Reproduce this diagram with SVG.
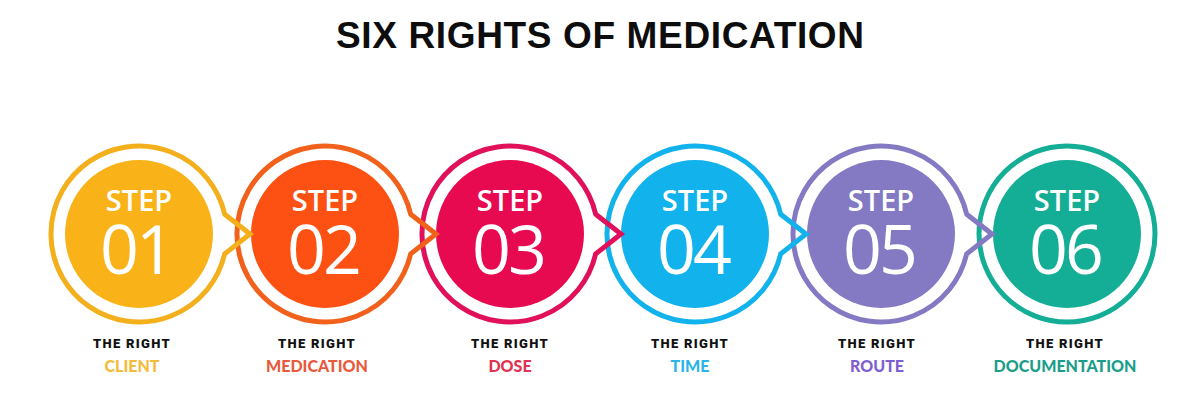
<svg xmlns="http://www.w3.org/2000/svg" width="1200" height="409" viewBox="0 0 1200 409">
<style>
.title{font-family:"Liberation Sans",Arial,sans-serif;font-weight:700;font-size:37px;fill:#0d0d0d;text-anchor:middle}
.ring{fill:none;stroke-width:5;stroke-linejoin:miter}
.step{font-family:"Open Sans","Liberation Sans",sans-serif;font-weight:600;font-size:29px;fill:#fff;text-anchor:middle}
.num{font-family:"Open Sans","Liberation Sans",sans-serif;font-weight:400;font-size:68px;fill:#fff;text-anchor:middle;letter-spacing:-3px}
.lbl1{font-family:Roboto,"Liberation Sans",sans-serif;font-weight:900;font-size:13px;fill:#111;text-anchor:middle;letter-spacing:1.3px}
.lbl2{font-family:"Lato","Liberation Sans",sans-serif;font-weight:900;font-size:16px;text-anchor:middle}
</style>
<rect width="1200" height="409" fill="#fff"/>
<text class="title" x="600" y="48" textLength="528" lengthAdjust="spacing">SIX RIGHTS OF MEDICATION</text>

<g id="node6">
<circle cx="1067" cy="234" r="74" fill="#14ad95"/>
<circle class="ring" cx="1067" cy="234" r="88" stroke="#14ad95"/>
<text class="step" x="1067" y="211">STEP</text>
<text class="num" x="1065" y="274">06</text>
<text class="lbl1" x="1065" y="348">THE RIGHT</text>
<text class="lbl2" x="1065" y="372" fill="#1a9e8a">DOCUMENTATION</text>
</g>
<g id="node5">
<circle cx="881" cy="234" r="74" fill="#8479c3"/>
<path class="ring" stroke="#8479c3" d="M966.7,214.2 L992,234 L966.7,253.8 A88,88 0 1 1 966.7,214.2 Z"/>
<text class="step" x="881" y="211">STEP</text>
<text class="num" x="879" y="274">05</text>
<text class="lbl1" x="877" y="348">THE RIGHT</text>
<text class="lbl2" x="877" y="372" fill="#7f5fd0">ROUTE</text>
</g>
<g id="node4">
<circle cx="695" cy="234" r="74" fill="#12b2ec"/>
<path class="ring" stroke="#12b2ec" d="M780.7,214.2 L806,234 L780.7,253.8 A88,88 0 1 1 780.7,214.2 Z"/>
<text class="step" x="695" y="211">STEP</text>
<text class="num" x="693" y="274">04</text>
<text class="lbl1" x="690" y="348">THE RIGHT</text>
<text class="lbl2" x="690" y="372" fill="#2bb5e6">TIME</text>
</g>
<g id="node3">
<circle cx="510" cy="234" r="74" fill="#e80a51"/>
<path class="ring" stroke="#e0115a" d="M595.7,214.2 L621,234 L595.7,253.8 A88,88 0 1 1 595.7,214.2 Z"/>
<text class="step" x="510" y="211">STEP</text>
<text class="num" x="508" y="274">03</text>
<text class="lbl1" x="510" y="348">THE RIGHT</text>
<text class="lbl2" x="510" y="372" fill="#e03452">DOSE</text>
</g>
<g id="node2">
<circle cx="325" cy="234" r="74" fill="#fd5113"/>
<path class="ring" stroke="#f2611c" d="M410.7,214.2 L436,234 L410.7,253.8 A88,88 0 1 1 410.7,214.2 Z"/>
<text class="step" x="325" y="211">STEP</text>
<text class="num" x="323" y="274">02</text>
<text class="lbl1" x="317" y="348">THE RIGHT</text>
<text class="lbl2" x="317" y="372" fill="#e85a3c">MEDICATION</text>
</g>
<g id="node1">
<circle cx="139" cy="234" r="74" fill="#f9b318"/>
<path class="ring" stroke="#f3b01c" d="M224.7,214.2 L250,234 L224.7,253.8 A88,88 0 1 1 224.7,214.2 Z"/>
<text class="step" x="139" y="211">STEP</text>
<text class="num" x="136" y="274">01</text>
<text class="lbl1" x="132" y="348">THE RIGHT</text>
<text class="lbl2" x="132" y="372" fill="#f3bb3a">CLIENT</text>
</g>
<g id="connectors"></g>
</svg>
